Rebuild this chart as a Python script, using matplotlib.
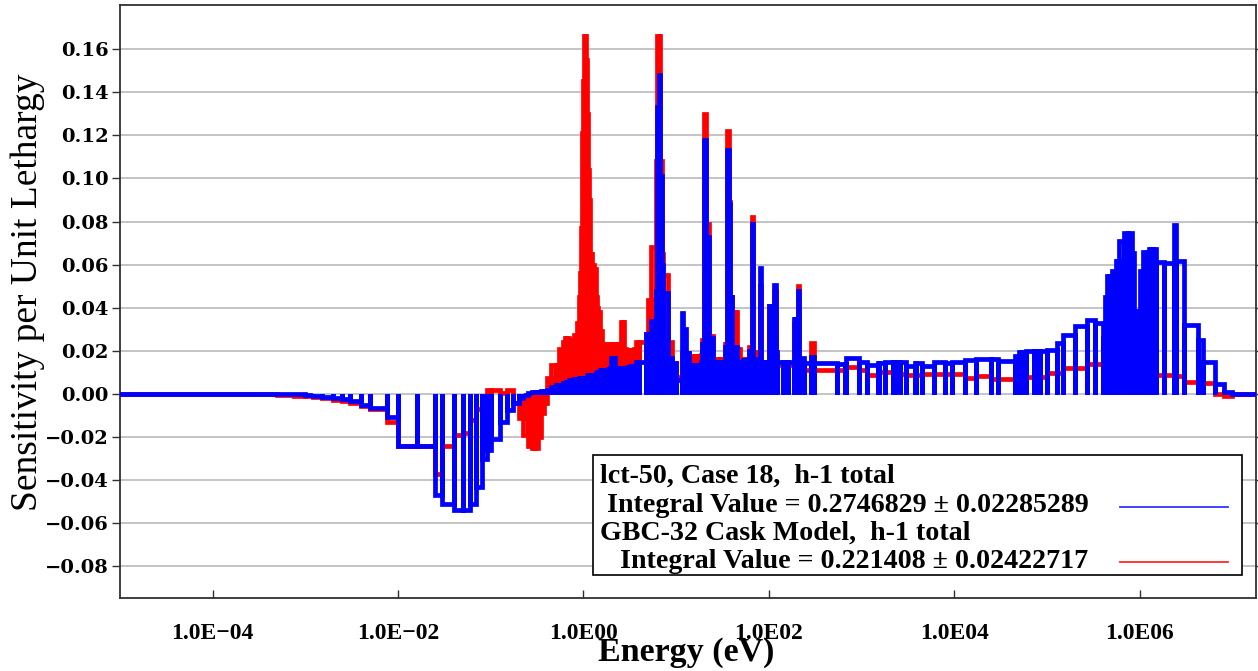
import matplotlib
matplotlib.use('Agg')
import matplotlib.pyplot as plt
from matplotlib.lines import Line2D
from matplotlib.patches import Rectangle
from matplotlib.ticker import FixedLocator, FuncFormatter

plt.rcParams['font.family'] = ['Liberation Serif', 'DejaVu Serif']

W, H = 1258, 671

# energy group boundaries (eV), ascending, one list per energy range
edges_thermal = [1e-5, 1e-4, 5e-4, 7.5e-4, 1e-3, 1.2e-3, 1.5e-3, 2e-3, 2.5e-3, 3e-3,
                 4e-3, 5e-3, 7.5e-3, 1e-2, 1.6e-2, 2.53e-2, 3e-2, 4e-2, 5e-2, 6e-2,
                 7e-2, 8e-2, 9e-2, 0.1, 0.125, 0.15, 0.175, 0.2, 0.225, 0.25,
                 0.275, 0.3, 0.325, 0.35, 0.375, 0.4, 0.45, 0.5, 0.55, 0.6,
                 0.625, 0.65, 0.7, 0.75, 0.8, 0.85, 0.9, 0.925, 0.95, 0.975]
edges_1_10 = [1.0, 1.01, 1.02, 1.03, 1.04, 1.05, 1.06, 1.07, 1.08, 1.09,
              1.1, 1.11, 1.12, 1.13, 1.14, 1.15, 1.175, 1.2, 1.225, 1.25,
              1.3, 1.35, 1.4, 1.45, 1.5, 1.59, 1.68, 1.77, 1.86, 1.94,
              2.0, 2.12, 2.21, 2.3, 2.38, 2.47, 2.57, 2.67, 2.77, 2.87,
              2.97, 3.0, 3.05, 3.15, 3.5, 3.73, 4.0, 4.75, 5.0, 5.4,
              6.0, 6.25, 6.5, 6.75, 7.0, 7.15, 8.1, 9.1]
edges_10_100 = [10.0, 11.5, 11.9, 12.9, 13.75, 14.4, 15.1, 16.0, 17.0, 18.5,
                19.0, 20.0, 21.0, 22.5, 25.0, 27.5, 30.0, 31.25, 31.75, 33.25,
                33.75, 34.6, 35.5, 37.0, 38.0, 39.1, 39.6, 41.0, 42.4, 44.0,
                45.2, 47.0, 48.3, 49.2, 50.6, 52.0, 53.4, 59.0, 61.0, 65.0,
                67.5, 72.0, 76.0, 80.0, 82.0, 90.0]
edges_100_1e5 = [100.0, 108.0, 115.0, 119.0, 122.0, 142.0, 160.0, 186.0, 192.5, 207.5,
                 210.0, 240.0, 285.0, 305.0, 550.0, 670.0, 683.0, 950.0, 1150.0, 1500.0,
                 1550.0, 1800.0, 2200.0, 2290.0, 2580.0, 3000.0, 3740.0, 3900.0, 4500.0, 6000.0,
                 8030.0, 9500.0, 1.3e4, 1.7e4, 2.5e4, 3e4, 4.5e4, 5e4, 5.2e4, 6e4,
                 7.3e4, 7.5e4, 8.2e4, 8.5e4]
edges_fast = [1e5, 1.283e5, 1.5e5, 2e5, 2.7e5, 3.3e5, 4e5, 4.2e5, 4.4e5, 4.7e5,
              4.9952e5, 5.5e5, 5.73e5, 6e5, 6.7e5, 6.79e5, 7.5e5, 8.2e5, 8.611e5, 8.75e5,
              9e5, 9.2e5, 1.01e6, 1.1e6, 1.2e6, 1.25e6, 1.317e6, 1.356e6, 1.4e6, 1.5e6,
              1.85e6, 2.354e6, 2.479e6, 3e6, 4.304e6, 4.8e6, 6.434e6, 8.187e6, 1e7, 1.284e7,
              1.384e7, 1.455e7, 1.5683e7, 1.7333e7, 2e7]

# lct-50, Case 18 (blue)
lct50_thermal = [0, 0, 0, -0.0002, -0.0005, -0.0008, -0.0012, -0.002, -0.0025, -0.0035,
                 -0.005, -0.0066, -0.0105, -0.024, -0.024, -0.047, -0.051, -0.054, -0.054, -0.051,
                 -0.043, -0.030, -0.026, -0.021, -0.013, -0.0075, -0.004, -0.002, -0.0005, 0.0005,
                 0.001, 0.001, 0.001, 0.0015, 0.0015, 0.002, 0.003, 0.004, 0.004, 0.005,
                 0.005, 0.0055, 0.0065, 0.0065, 0.007, 0.007, 0.0074, 0.0074, 0.0074, 0.0074]
lct50_1_10 = [0.0056, 0.0056, 0.0056, 0.0056, 0.0056, 0.0056, 0.0056, 0.006, 0.007, 0.008,
              0.0088, 0.0088, 0.0088, 0.0088, 0.0088, 0.0088, 0.0088, 0.0088, 0.0088, 0.009,
              0.009, 0.0095, 0.010, 0.010, 0.011, 0.011, 0.011, 0.011, 0.0115, 0.012,
              0.0167, 0.0167, 0.012, 0.0118, 0.0118, 0.012, 0.012, 0.0118, 0.012, 0.012,
              0.012, 0.0125, 0.0125, 0.013, 0.013, 0.0149, 0.0149, 0.028, 0.028, 0.034,
              0.048, 0.133, 0.148, 0.101, 0.060, 0.047, 0.0167, 0.0144]
lct50_10_100 = [0.0065, 0.0376, 0.030, 0.019, 0.0135, 0.0135, 0.0135, 0.0135, 0.0135, 0.015,
                0.023, 0.118, 0.073, 0.026, 0.015, 0.015, 0.015, 0.015, 0.015, 0.016,
                0.022, 0.022, 0.113, 0.088, 0.045, 0.045, 0.022, 0.022, 0.022, 0.022,
                0.015, 0.015, 0.015, 0.0056, 0.0056, 0.0158, 0.0158, 0.016, 0.020, 0.079,
                0.016, 0.0135, 0.0135, 0.0586, 0.015, 0.015]
lct50_100_1e5 = [0.041, 0.041, 0.0507, 0.0195, 0.015, 0.015, 0.015, 0.035, 0.035, 0.048,
                 0.0167, 0.0144, 0.017, 0.0144, 0.014, 0.014, 0.0167, 0.015, 0.0135, 0.0144,
                 0.0144, 0.015, 0.015, 0.015, 0.015, 0.013, 0.0144, 0.0144, 0.013, 0.015,
                 0.0144, 0.0146, 0.0158, 0.0164, 0.0164, 0.0155, 0.0174, 0.0195, 0.0195, 0.020,
                 0.020, 0.020, 0.020, 0.020]
lct50_fast = [0.0205, 0.0237, 0.0274, 0.0313, 0.0344, 0.033, 0.026, 0.045, 0.0546, 0.0546,
              0.0569, 0.0616, 0.0616, 0.0708, 0.0708, 0.0748, 0.0748, 0.0655, 0.0383, 0.0383,
              0.0383, 0.0383, 0.0569, 0.066, 0.066, 0.0674, 0.0674, 0.0674, 0.0674, 0.061,
              0.0608, 0.0786, 0.0616, 0.032, 0.0251, 0.015, 0.0046, 0.001, 0, 0,
              0, 0, 0, 0]

# GBC-32 Cask Model (red)
gbc32_thermal = [0, -0.0002, -0.0006, -0.0008, -0.001, -0.0012, -0.0018, -0.0028, -0.0032, -0.0042,
                 -0.0055, -0.007, -0.013, -0.024, -0.024, -0.037, -0.024, -0.019, -0.018, -0.012,
                 -0.007, -0.002, 0.002, 0.002, 0.0005, 0.002, -0.004, -0.011, -0.019, -0.024,
                 -0.025, -0.025, -0.020, -0.009, -0.004, 0.0074, 0.0135, 0.0135, 0.021, 0.024,
                 0.026, 0.026, 0.025, 0.025, 0.0274, 0.033, 0.045, 0.056, 0.077, 0.121]
gbc32_1_10 = [0.145, 0.166, 0.166, 0.166, 0.166, 0.166, 0.158, 0.155, 0.148, 0.140,
              0.130, 0.120, 0.104, 0.104, 0.100, 0.090, 0.065, 0.065, 0.061, 0.060,
              0.058, 0.045, 0.040, 0.038, 0.029, 0.023, 0.022, 0.022, 0.023, 0.022,
              0.023, 0.023, 0.022, 0.023, 0.023, 0.023, 0.0335, 0.0335, 0.021, 0.0205,
              0.0205, 0.0205, 0.0205, 0.0205, 0.021, 0.024, 0.024, 0.028, 0.0437, 0.068,
              0.108, 0.166, 0.166, 0.108, 0.065, 0.055, 0.024, 0.0144]
gbc32_10_100 = [0.008, 0.019, 0.019, 0.019, 0.0175, 0.0175, 0.0175, 0.0175, 0.0175, 0.018,
                0.025, 0.130, 0.079, 0.027, 0.016, 0.016, 0.016, 0.016, 0.016, 0.017,
                0.023, 0.023, 0.122, 0.089, 0.045, 0.045, 0.038, 0.038, 0.038, 0.038,
                0.021, 0.021, 0.021, 0.0088, 0.0088, 0.016, 0.016, 0.016, 0.022, 0.082,
                0.0195, 0.016, 0.014, 0.050, 0.013, 0.013]
gbc32_100_1e5 = [0.041, 0.038, 0.048, 0.018, 0.0135, 0.0135, 0.0135, 0.033, 0.034, 0.050,
                 0.015, 0.011, 0.0237, 0.011, 0.011, 0.0127, 0.0127, 0.011, 0.0088, 0.0104,
                 0.0104, 0.0104, 0.0093, 0.0093, 0.0093, 0.0088, 0.0088, 0.0088, 0.0093, 0.0093,
                 0.0093, 0.0093, 0.0074, 0.0084, 0.007, 0.007, 0.007, 0.008, 0.008, 0.008,
                 0.008, 0.008, 0.008, 0.008]
gbc32_fast = [0.0098, 0.0098, 0.012, 0.012, 0.014, 0.014, 0.014, 0.015, 0.016, 0.016,
              0.017, 0.017, 0.018, 0.018, 0.018, 0.019, 0.019, 0.018, 0.017, 0.017,
              0.017, 0.017, 0.018, 0.019, 0.019, 0.02, 0.02, 0.02, 0.02, 0.0088,
              0.0088, 0.009, 0.0085, 0.0057, 0.005, 0.005, 0, -0.001, 0, 0,
              0, 0, 0, 0]

group_edges = edges_thermal + edges_1_10 + edges_10_100 + edges_100_1e5 + edges_fast
lct50 = lct50_thermal + lct50_1_10 + lct50_10_100 + lct50_100_1e5 + lct50_fast
gbc32 = gbc32_thermal + gbc32_1_10 + gbc32_10_100 + gbc32_100_1e5 + gbc32_fast

label_lct = 'lct-50, Case 18,  h-1 total'
integral_lct = ' Integral Value = 0.2746829 \u00b1 0.02285289'
label_gbc = 'GBC-32 Cask Model,  h-1 total'
integral_gbc = '  Integral Value = 0.221408 \u00b1 0.02422717'

x_ticks = [1e-4, 1e-2, 1e0, 1e2, 1e4, 1e6]
x_ticklabels = ['1.0E\u221204', '1.0E\u221202', '1.0E00', '1.0E02', '1.0E04', '1.0E06']
y_ticks = [-0.08, -0.06, -0.04, -0.02, 0.0, 0.02, 0.04, 0.06, 0.08, 0.10, 0.12, 0.14, 0.16]


def bin_outline(edges, vals):
    # every group drawn as a box from zero up to its value
    xs, ys = [], []
    for lo, hi, v in zip(edges[:-1], edges[1:], vals):
        xs += [lo, lo, hi, hi]
        ys += [0, v, v, 0]
    return xs, ys


def px(x, y):
    return x / W, 1 - y / H


fig = plt.figure(figsize=(W / 100, H / 100), dpi=100)
ax = fig.add_axes([120 / W, (H - 598) / H, (1256 - 120) / W, (598 - 5) / H])

for v in y_ticks:
    ax.axhline(v, color='#c4c4c4', lw=1.4, zorder=1)

xr, yr = bin_outline(group_edges, gbc32)
ax.plot(xr, yr, color='#ff0000', lw=3.4, solid_joinstyle='miter', zorder=2)
xb, yb = bin_outline(group_edges, lct50)
ax.plot(xb, yb, color='#0000ff', lw=3.4, solid_joinstyle='miter', zorder=3)

ax.set_xscale('log')
ax.set_xlim(1e-5, 1.8e7)
ax.set_ylim(-0.0947, 0.1805)
ax.xaxis.set_major_locator(FixedLocator(x_ticks))
ax.xaxis.set_minor_locator(FixedLocator([]))
ax.set_xticklabels(x_ticklabels)
ax.yaxis.set_major_locator(FixedLocator(y_ticks))
ax.yaxis.set_major_formatter(FuncFormatter(lambda v, p: ('%.2f' % v).replace('-', '\u2212')))

ax.tick_params(axis='x', direction='in', length=6, width=1, pad=18, colors='#303030',
               labelcolor='black')
ax.tick_params(axis='y', direction='out', length=6, width=1, pad=2, colors='#303030',
               labelcolor='black', right=True)
for lab in ax.get_xticklabels():
    lab.set_fontsize(17)
    lab.set_fontweight('bold')
for lab in ax.get_yticklabels():
    lab.set_family('DejaVu Serif')
    lab.set_fontsize(14)
    lab.set_fontweight('bold')
for s in ax.spines.values():
    s.set_color('#303030')
    s.set_linewidth(1.3)

fig.text(*px(28, 292), 'Sensitivity per Unit Lethargy', rotation=90, ha='center', va='center',
         fontsize=27)
fig.text(*px(686, 653), 'Energy (eV)', ha='center', va='center', fontsize=24.5, fontweight='bold')

# legend box
x0, y0 = px(593, 575)
fig.add_artist(Rectangle((x0, y0), (1242 - 593) / W, (575 - 455) / H, transform=fig.transFigure,
                         facecolor='white', edgecolor='black', lw=1.2, zorder=5))
for txt, xx, yy in [(label_lct, 600, 476), (integral_lct, 600, 506),
                    (label_gbc, 600, 533), (integral_gbc, 606, 561)]:
    fig.text(*px(xx, yy), txt, ha='left', va='center', fontsize=20.2, fontweight='bold', zorder=6)
for col, yy in [('#3333ff', 507), ('#ff2a2a', 562)]:
    xa, ya = px(1120, yy)
    xb2, _ = px(1228, yy)
    fig.add_artist(Line2D([xa, xb2], [ya, ya], transform=fig.transFigure, color=col, lw=1.3,
                          zorder=6))

fig.savefig('out.png', dpi=100)
